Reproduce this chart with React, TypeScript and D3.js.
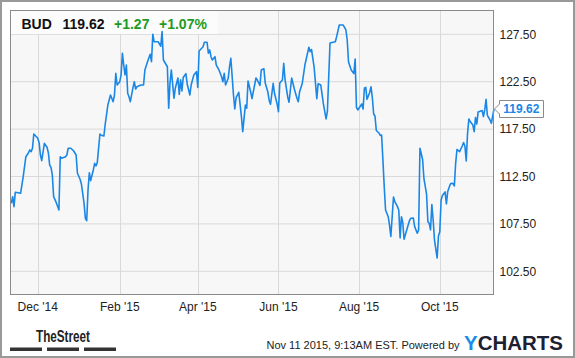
import React from 'react';
import * as d3 from 'd3';

const ticker = 'BUD';
const lastPrice = 119.62;
const change = 1.27;
const changePct = 1.07;
const stamp = 'Nov 11 2015, 9:13AM EST.';

const dates = [
  '2014-11-11','2014-11-12','2014-11-13','2014-11-14','2014-11-18','2014-11-20','2014-11-22','2014-11-24','2014-11-25','2014-11-26',
  '2014-11-27','2014-11-28','2014-12-01','2014-12-02','2014-12-03','2014-12-04','2014-12-06','2014-12-08','2014-12-09','2014-12-10',
  '2014-12-11','2014-12-12','2014-12-13','2014-12-15','2014-12-17','2014-12-18','2014-12-19','2014-12-22','2014-12-23','2014-12-24',
  '2014-12-26','2014-12-28','2014-12-30','2014-12-31','2015-01-02','2015-01-03','2015-01-05','2015-01-06','2015-01-07','2015-01-08',
  '2015-01-09','2015-01-10','2015-01-12','2015-01-13','2015-01-14','2015-01-15','2015-01-17','2015-01-18','2015-01-20','2015-01-21',
  '2015-01-23','2015-01-25','2015-01-27','2015-01-28','2015-01-29','2015-01-30','2015-02-01','2015-02-02','2015-02-03','2015-02-04',
  '2015-02-05','2015-02-06','2015-02-07','2015-02-08','2015-02-09','2015-02-11','2015-02-12','2015-02-13','2015-02-14','2015-02-17',
  '2015-02-19','2015-02-20','2015-02-22','2015-02-24','2015-02-25','2015-02-26','2015-02-27','2015-03-01','2015-03-02','2015-03-04',
  '2015-03-05','2015-03-06','2015-03-09','2015-03-10','2015-03-11','2015-03-12','2015-03-14','2015-03-15','2015-03-17','2015-03-18',
  '2015-03-19','2015-03-20','2015-03-21','2015-03-23','2015-03-24','2015-03-26','2015-03-27','2015-03-29','2015-03-31','2015-04-01',
  '2015-04-02','2015-04-05','2015-04-06','2015-04-08','2015-04-09','2015-04-10','2015-04-11','2015-04-12','2015-04-14','2015-04-15',
  '2015-04-17','2015-04-19','2015-04-20','2015-04-21','2015-04-22','2015-04-24','2015-04-25','2015-04-26','2015-04-28','2015-04-29',
  '2015-04-30','2015-05-02','2015-05-04','2015-05-05','2015-05-07','2015-05-08','2015-05-09','2015-05-11','2015-05-12','2015-05-15',
  '2015-05-16','2015-05-18','2015-05-19','2015-05-21','2015-05-22','2015-05-24','2015-05-25','2015-05-26','2015-05-28','2015-05-29',
  '2015-05-31','2015-06-01','2015-06-02','2015-06-04','2015-06-05','2015-06-06','2015-06-08','2015-06-09','2015-06-11','2015-06-13',
  '2015-06-15','2015-06-16','2015-06-17','2015-06-19','2015-06-21','2015-06-24','2015-06-25','2015-06-26','2015-06-28','2015-06-30',
  '2015-07-01','2015-07-03','2015-07-05','2015-07-07','2015-07-08','2015-07-10','2015-07-14','2015-07-15','2015-07-17','2015-07-20',
  '2015-07-22','2015-07-23','2015-07-24','2015-07-26','2015-07-28','2015-07-29','2015-07-30','2015-07-31','2015-08-02','2015-08-03',
  '2015-08-04','2015-08-05','2015-08-06','2015-08-07','2015-08-09','2015-08-10','2015-08-11','2015-08-12','2015-08-13','2015-08-14',
  '2015-08-16','2015-08-17','2015-08-18','2015-08-19','2015-08-20','2015-08-21','2015-08-23','2015-08-24','2015-08-25','2015-08-27',
  '2015-08-28','2015-08-30','2015-08-31','2015-09-01','2015-09-02','2015-09-03','2015-09-04','2015-09-06','2015-09-08','2015-09-09',
  '2015-09-11','2015-09-12','2015-09-14','2015-09-15','2015-09-16','2015-09-18','2015-09-19','2015-09-21','2015-09-22','2015-09-23',
  '2015-09-24','2015-09-25','2015-09-26','2015-09-27','2015-09-29','2015-09-30','2015-10-01','2015-10-02','2015-10-03','2015-10-05',
  '2015-10-06','2015-10-07','2015-10-09','2015-10-10','2015-10-11','2015-10-12','2015-10-13','2015-10-14','2015-10-16','2015-10-18',
  '2015-10-19','2015-10-20','2015-10-21','2015-10-22','2015-10-23','2015-10-24','2015-10-26','2015-10-27','2015-10-28','2015-10-29',
  '2015-10-30','2015-10-31','2015-11-02','2015-11-03','2015-11-04','2015-11-05','2015-11-06','2015-11-08','2015-11-09','2015-11-11',
];

const prices = [
  109.67,110.37,109.32,110.83,110.73,112.48,114.59,115.01,115.30,115.12,
  115.48,116.98,116.53,116.07,114.77,114.17,116.00,115.58,115.01,113.71,
  113.47,112.66,110.37,109.74,108.97,114.59,114.42,114.59,114.77,115.48,
  115.48,115.22,114.77,112.84,112.21,111.71,109.67,108.09,107.84,111.08,
  112.90,112.06,113.19,113.89,113.61,113.96,116.98,116.85,116.77,118.01,
  120.04,121.10,120.39,121.10,123.39,122.15,122.50,123.21,125.50,124.26,
  123.21,124.26,121.28,120.92,120.39,121.87,122.50,121.73,121.97,122.15,
  122.15,123.74,124.61,125.39,124.61,127.50,126.72,126.72,126.72,126.24,
  127.78,124.79,124.08,119.70,122.36,123.74,120.75,121.81,122.89,121.15,
  122.71,121.52,122.94,123.35,122.26,121.10,122.15,123.21,123.56,121.89,
  125.74,126.19,126.66,126.66,125.50,125.85,125.14,124.79,125.14,124.26,
  123.74,123.03,122.50,123.39,122.15,122.86,124.08,124.97,121.10,119.62,
  120.83,121.38,118.81,117.23,120.04,119.70,122.58,121.41,120.71,122.89,
  122.68,122.10,123.74,123.87,122.36,121.41,120.52,120.12,122.33,121.28,
  120.15,119.34,122.36,122.68,124.44,122.68,120.89,120.33,122.89,121.73,
  120.75,120.39,121.45,122.31,124.26,126.14,125.67,125.90,124.00,120.71,
  122.29,122.15,120.15,118.57,119.34,126.58,126.72,127.25,128.48,128.48,
  127.96,126.90,124.58,123.74,123.35,124.90,119.78,119.52,119.94,120.15,
  119.62,121.81,121.91,120.64,121.36,121.97,120.83,119.09,118.88,117.35,
  117.09,116.83,116.88,114.24,111.42,108.97,108.26,107.38,106.17,110.34,
  109.84,109.32,108.94,106.03,108.26,107.65,105.88,106.86,107.81,108.09,
  108.12,107.21,106.51,106.86,115.48,114.29,112.31,110.65,107.73,107.56,
  106.86,109.55,107.91,105.80,103.90,106.22,106.68,110.02,110.50,110.87,
  109.60,110.92,111.71,111.78,111.76,111.50,113.89,115.35,115.12,115.72,
  116.09,115.72,114.14,117.06,118.57,118.30,117.93,117.23,118.72,118.04,
  119.31,119.36,119.46,118.83,119.52,120.64,118.94,118.46,118.11,119.62,
];

const yTicks = [102.5, 107.5, 112.5, 117.5, 122.5, 127.5];
const xTicks = ['2014-12-01', '2015-02-01', '2015-04-01', '2015-06-01', '2015-08-01', '2015-10-01'];
const xDomain = ['2014-11-10', '2015-11-11'];

const W = 575;
const H = 358;
const L = 10, T = 10, R = 494, B = 295;
const FONT = '"Liberation Sans", Arial, Helvetica, sans-serif';
const BLUE = '#1a87e6';
const GREEN = '#1e9b1e';

export default function App() {
  const parse = d3.timeParse('%Y-%m-%d');
  const pts = dates.map((d, i) => ({ date: parse(d) as Date, value: prices[i] }));
  const x = d3.scaleTime().domain(xDomain.map((d) => parse(d) as Date)).range([L, R]);
  const y = d3.scaleLinear().domain([102.5, 127.5]).range([271.3, 34.3]);
  const line = d3.line<{ date: Date; value: number }>().x((d) => x(d.date)).y((d) => y(d.value));
  const fmtX = d3.timeFormat("%b '%y");
  const fmtY = d3.format('.2f');
  const ly = y(lastPrice);

  return (
    <svg width={W} height={H} viewBox={`0 0 ${W} ${H}`}
      style={{ position: 'absolute', left: 0, top: 0, display: 'block', background: '#fff' }}
      fontFamily={FONT}>
      <rect x={0} y={0} width={W} height={H} fill="#fff" />
      <rect x={1} y={1} width={W - 2} height={H - 2} fill="none" stroke="#999" strokeWidth={2} />
      <rect x={L} y={T} width={R - L} height={B - T} fill="#f7f7f7" />
      {yTicks.map((t) => (
        <line key={'gy' + t} x1={L} x2={R} y1={y(t)} y2={y(t)} stroke="#d9d9d9" strokeWidth={1} />
      ))}
      {xTicks.map((t) => {
        const xv = Math.round(x(parse(t) as Date)) + 0.5;
        return <line key={'gx' + t} x1={xv} x2={xv} y1={T} y2={B} stroke="#d9d9d9" strokeWidth={1} />;
      })}
      <rect x={L} y={T} width={208} height={24} fill="#fdfdfd" opacity={0.85} />
      <path d={line(pts) || ''} fill="none" stroke={BLUE} strokeWidth={1.6} strokeLinejoin="round" />
      <rect x={L + 0.5} y={T + 0.5} width={R - L - 1} height={B - T - 1} fill="none" stroke="#8a8a8a" strokeWidth={1} />

      <text y={28.5} fontSize={14} fontWeight="bold">
        <tspan x={21.5} fill="#111">{ticker}</tspan>
        <tspan x={62.5} fill="#111">{lastPrice.toFixed(2)}</tspan>
        <tspan x={114} fill={GREEN}>{'+' + change.toFixed(2)}</tspan>
        <tspan x={159} fill={GREEN}>{'+' + changePct.toFixed(2) + '%'}</tspan>
      </text>

      {yTicks.map((t) => (
        <text key={'ty' + t} x={499.5} y={y(t) + 4.3} fontSize={12} fill="#222">{fmtY(t)}</text>
      ))}
      {xTicks.map((t) => (
        <text key={'tx' + t} x={x(parse(t) as Date)} y={311} fontSize={12} fill="#222" textAnchor="middle">
          {fmtX(parse(t) as Date)}
        </text>
      ))}

      <path d={`M${R + 0.5},${ly} L${R + 5.5},${ly - 5} L${R + 5.5},${ly - 8.5} L${R + 49.5},${ly - 8.5} L${R + 49.5},${ly + 8.5} L${R + 5.5},${ly + 8.5} L${R + 5.5},${ly + 5} Z`}
        fill="#fff" stroke="#8a8a8a" strokeWidth={1} />
      <text x={503.3} y={ly + 4.3} fontSize={12} fontWeight="bold" fill={BLUE}>{lastPrice.toFixed(2)}</text>

      <text x={36} y={341.5} fontSize={17} fontWeight="bold" fill="#222"
        fontFamily='"Liberation Sans Narrow", "Liberation Sans", Arial, sans-serif'
        textLength={54} lengthAdjust="spacingAndGlyphs">TheStreet</text>
      {[10, 47, 84].map((bx) => (
        <rect key={'bar' + bx} x={bx} y={347.5} width={32} height={3.5} fill="#333" />
      ))}

      <text x={459.5} y={348.5} fontSize={11} fill="#222" textAnchor="end">{stamp + ' Powered by'}</text>
      <text x={464} y={349.5} fontSize={20} fontWeight="bold" textLength={99} lengthAdjust="spacingAndGlyphs">
        <tspan fill="#1a8ee6">Y</tspan>
        <tspan fill="#1d2030">CHARTS</tspan>
      </text>
    </svg>
  );
}
